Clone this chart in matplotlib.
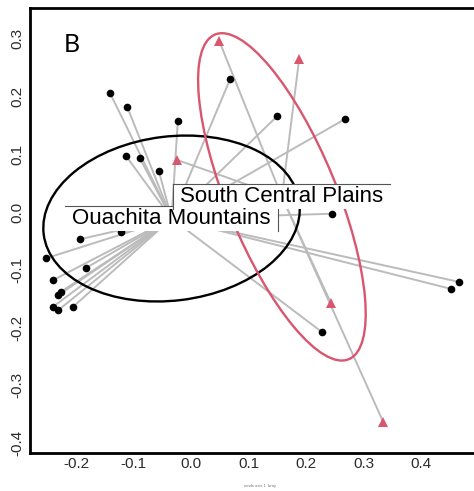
import matplotlib.pyplot as plt
import numpy as np
from matplotlib.patches import Ellipse, Rectangle

plt.rcParams['font.family'] = ['Liberation Sans', 'DejaVu Sans']
plt.rcParams['axes.unicode_minus'] = False

# ordination scores, Ouachita Mountains sites
ouachita_x = [-0.141, -0.111, -0.113, -0.089, -0.056, -0.023, 0.068, 0.150, 0.268,
              -0.193, -0.252, -0.183, -0.240, -0.226, -0.231, -0.240, -0.231, -0.205,
              -0.122, 0.245, 0.466, 0.452, 0.228]
ouachita_y = [0.206, 0.182, 0.097, 0.093, 0.071, 0.157, 0.230, 0.166, 0.161,
              -0.047, -0.080, -0.097, -0.118, -0.138, -0.144, -0.164, -0.170, -0.164,
              -0.035, -0.003, -0.121, -0.133, -0.208]

# ordination scores, South Central Plains sites
plains_x = [0.049, 0.188, -0.024, 0.243, 0.334]
plains_y = [0.296, 0.265, 0.090, -0.157, -0.363]

group_names = ['Ouachita Mountains', 'South Central Plains']

# dispersion ellipses: full width, full height, rotation (degrees)
ell_width = [0.448, 0.608]
ell_height = [0.284, 0.190]
ell_angle = [7.0, -67.5]

x_ticks = [-0.2, -0.1, 0.0, 0.1, 0.2, 0.3, 0.4]
y_ticks = [-0.4, -0.3, -0.2, -0.1, 0.0, 0.1, 0.2, 0.3]

red = '#D9566F'
spoke = '#BBBBBB'

fig = plt.figure(figsize=(4.74, 4.91), dpi=100)
ax = fig.add_axes([30 / 474, 38 / 491, 444 / 474, 445 / 491])

groups = [(np.array(ouachita_x), np.array(ouachita_y), 'k', 'o', 5.5),
          (np.array(plains_x), np.array(plains_y), red, '^', 6.5)]

centres = []
for i, (gx, gy, col, mk, ms) in enumerate(groups):
    cx, cy = gx.mean(), gy.mean()
    centres.append((cx, cy))
    # spider lines to the group centroid
    for px, py in zip(gx, gy):
        ax.plot([cx, px], [cy, py], color=spoke, lw=1.4, zorder=1,
                solid_capstyle='butt')
    ax.add_patch(Ellipse((cx, cy), ell_width[i], ell_height[i], angle=ell_angle[i],
                         fill=False, edgecolor=col, lw=1.7, zorder=2))
    ax.plot(gx, gy, linestyle='none', marker=mk, color=col, markersize=ms,
            markeredgewidth=0, zorder=3)

ax.set_xlim(-0.280, 0.492)
ax.set_ylim(-0.417, 0.353)
ax.set_xticks(x_ticks)
ax.set_yticks(y_ticks)
ax.set_xticklabels([f'{v:.1f}' for v in x_ticks])
ax.set_yticklabels([f'{v:.1f}' for v in y_ticks], rotation=90, va='center')
ax.tick_params(length=0, labelsize=11, labelcolor='#2b2b2b')
ax.tick_params(axis='x', pad=3)
ax.tick_params(axis='y', pad=4)
for side in ['left', 'bottom', 'top']:
    ax.spines[side].set_linewidth(2)
ax.spines['right'].set_visible(False)

ax.text(-0.207, 0.289, 'B', fontsize=18, family=['Lato', 'DejaVu Sans'],
        ha='center', va='center')

# group labels at the centroids
labels = []
for name, (cx, cy) in zip(group_names, centres):
    labels.append(ax.text(cx, cy, name, fontsize=16, ha='center', va='center',
                          zorder=9))

fig.canvas.draw()
inv = ax.transData.inverted()
box_sides = [('top', 'right'), ('top', 'left')]
for i, (txt, sides) in enumerate(zip(labels, box_sides)):
    bb = txt.get_window_extent()
    (x0, y0), (x1, y1) = inv.transform([(bb.x0 - 7, bb.y0 - 2), (bb.x1 + 7, bb.y1 + 2)])
    z = 5 + 2 * i
    ax.add_patch(Rectangle((x0, y0), x1 - x0, y1 - y0, facecolor='white',
                           edgecolor='none', zorder=z))
    edges = {'top': ([x0, x1], [y1, y1]), 'bottom': ([x0, x1], [y0, y0]),
             'left': ([x0, x0], [y0, y1]), 'right': ([x1, x1], [y0, y1])}
    for s in sides:
        ax.plot(*edges[s], color='#555555', lw=0.8, zorder=z + 0.5)

fig.text(260 / 474, 1 - 486 / 491, 'nmds axis 1  bray', fontsize=3,
         color='#777777', ha='center', va='center')

fig.savefig('out.png', dpi=100)
